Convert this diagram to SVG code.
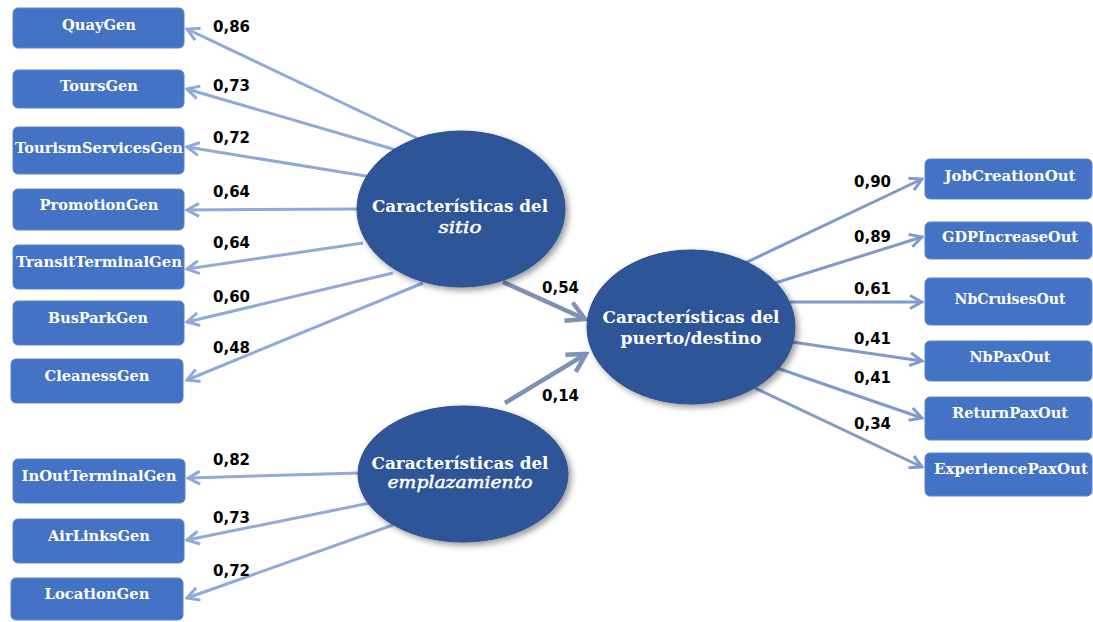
<svg xmlns="http://www.w3.org/2000/svg" width="1093" height="622" viewBox="0 0 1093 622">
<defs>
<style>
.box{fill:#4472c4;stroke:#5b84cc;stroke-width:1}
.bt{font-family:"DejaVu Serif","Liberation Serif",serif;font-weight:bold;font-size:14px;fill:#ffffff;text-anchor:middle}
.num{font-family:"DejaVu Sans","Liberation Sans",sans-serif;font-weight:bold;font-size:15px;fill:#000000}
.ell{fill:#2f5597;stroke:#2a4f8f;stroke-width:1}
.et{font-family:"DejaVu Serif","Liberation Serif",serif;font-weight:bold;font-size:17px;fill:#ffffff;text-anchor:middle}
.it{font-style:italic;font-weight:normal;stroke:#ffffff;stroke-width:0.5}
.ll{fill:none;stroke:#8eaadb;stroke-width:3}
.rl{fill:none;stroke:#7f9bcb;stroke-width:3}
.sl{fill:none;stroke:#7d91b5;stroke-width:4.5}
</style>
<marker id="al" markerUnits="userSpaceOnUse" viewBox="0 0 16 16" refX="14" refY="8" markerWidth="16" markerHeight="16" orient="auto">
<path d="M2,1.5 L14,8 L2,14.5" fill="none" stroke="#8eaadb" stroke-width="3"/>
</marker>
<marker id="ar" markerUnits="userSpaceOnUse" viewBox="0 0 16 16" refX="14" refY="8" markerWidth="16" markerHeight="16" orient="auto">
<path d="M2,1.5 L14,8 L2,14.5" fill="none" stroke="#7f9bcb" stroke-width="3"/>
</marker>
<marker id="as" markerUnits="userSpaceOnUse" viewBox="0 0 24 24" refX="21" refY="12" markerWidth="24" markerHeight="24" orient="auto">
<path d="M3,2 L21,12 L3,22" fill="none" stroke="#7d91b5" stroke-width="4.5"/>
</marker>
<filter id="sh" x="-20%" y="-20%" width="140%" height="140%">
<feGaussianBlur in="SourceAlpha" stdDeviation="3"/>
<feOffset dx="3" dy="3" result="b"/>
<feComponentTransfer><feFuncA type="linear" slope="0.4"/></feComponentTransfer>
<feMerge><feMergeNode/><feMergeNode in="SourceGraphic"/></feMerge>
</filter>
</defs>
<rect width="1093" height="622" fill="#ffffff"/>

<g id="connectors">
<line class="ll" x1="427" y1="143" x2="187" y2="29" marker-end="url(#al)"/>
<line class="ll" x1="403" y1="152" x2="187" y2="89" marker-end="url(#al)"/>
<line class="ll" x1="372" y1="177" x2="187" y2="147" marker-end="url(#al)"/>
<line class="ll" x1="358" y1="209" x2="187" y2="210" marker-end="url(#al)"/>
<line class="ll" x1="363" y1="243" x2="187" y2="269" marker-end="url(#al)"/>
<line class="ll" x1="393" y1="273" x2="187" y2="322" marker-end="url(#al)"/>
<line class="ll" x1="423" y1="283" x2="187" y2="380" marker-end="url(#al)"/>
<line class="ll" x1="359" y1="473" x2="188" y2="478" marker-end="url(#al)"/>
<line class="ll" x1="370" y1="503" x2="187" y2="540" marker-end="url(#al)"/>
<line class="ll" x1="393" y1="525" x2="187" y2="598" marker-end="url(#al)"/>
<line class="rl" x1="745" y1="263" x2="922" y2="179" marker-end="url(#ar)"/>
<line class="rl" x1="775" y1="283" x2="922" y2="237" marker-end="url(#ar)"/>
<line class="rl" x1="790" y1="302" x2="922" y2="302" marker-end="url(#ar)"/>
<line class="rl" x1="792" y1="342" x2="922" y2="361" marker-end="url(#ar)"/>
<line class="rl" x1="777" y1="368" x2="922" y2="418" marker-end="url(#ar)"/>
<line class="rl" x1="755" y1="388" x2="922" y2="467" marker-end="url(#ar)"/>
<line class="sl" x1="503" y1="282" x2="585" y2="319" marker-end="url(#as)"/>
<line class="sl" x1="505" y1="403" x2="586" y2="354" marker-end="url(#as)"/>
</g>

<g id="labels">
<text class="num" x="213" y="32">0,86</text>
<text class="num" x="213" y="91">0,73</text>
<text class="num" x="213" y="143">0,72</text>
<text class="num" x="213" y="197">0,64</text>
<text class="num" x="213" y="248">0,64</text>
<text class="num" x="213" y="302">0,60</text>
<text class="num" x="213" y="353">0,48</text>
<text class="num" x="213" y="465">0,82</text>
<text class="num" x="213" y="523">0,73</text>
<text class="num" x="213" y="576">0,72</text>
<text class="num" x="542" y="293">0,54</text>
<text class="num" x="542" y="401">0,14</text>
<text class="num" x="854" y="187">0,90</text>
<text class="num" x="854" y="242">0,89</text>
<text class="num" x="854" y="294">0,61</text>
<text class="num" x="854" y="344">0,41</text>
<text class="num" x="854" y="383">0,41</text>
<text class="num" x="854" y="429">0,34</text>
</g>

<g id="n-quay"><rect class="box" x="13" y="8" width="171" height="40" rx="5"/><text class="bt" x="99" y="30" textLength="74" lengthAdjust="spacingAndGlyphs">QuayGen</text></g>
<g id="n-tours"><rect class="box" x="13" y="70" width="171" height="38" rx="5"/><text class="bt" x="99" y="91" textLength="78" lengthAdjust="spacingAndGlyphs">ToursGen</text></g>
<g id="n-tourism"><rect class="box" x="13" y="127" width="171" height="47" rx="5"/><text class="bt" x="99" y="153" textLength="168" lengthAdjust="spacingAndGlyphs">TourismServicesGen</text></g>
<g id="n-promotion"><rect class="box" x="13" y="189" width="171" height="41" rx="5"/><text class="bt" x="99" y="210" textLength="119" lengthAdjust="spacingAndGlyphs">PromotionGen</text></g>
<g id="n-transit"><rect class="box" x="13" y="245" width="171" height="44" rx="5"/><text class="bt" x="99" y="267" textLength="166" lengthAdjust="spacingAndGlyphs">TransitTerminalGen</text></g>
<g id="n-buspark"><rect class="box" x="13" y="301" width="171" height="44" rx="5"/><text class="bt" x="98" y="323" textLength="100" lengthAdjust="spacingAndGlyphs">BusParkGen</text></g>
<g id="n-cleaness"><rect class="box" x="11" y="359" width="172" height="44" rx="5"/><text class="bt" x="97" y="381" textLength="105" lengthAdjust="spacingAndGlyphs">CleanessGen</text></g>
<g id="n-inout"><rect class="box" x="13" y="459" width="172" height="44" rx="5"/><text class="bt" x="99" y="481" textLength="155" lengthAdjust="spacingAndGlyphs">InOutTerminalGen</text></g>
<g id="n-airlinks"><rect class="box" x="13" y="519" width="171" height="44" rx="5"/><text class="bt" x="99" y="541" textLength="102" lengthAdjust="spacingAndGlyphs">AirLinksGen</text></g>
<g id="n-location"><rect class="box" x="11" y="578" width="172" height="42" rx="5"/><text class="bt" x="97" y="599" textLength="105" lengthAdjust="spacingAndGlyphs">LocationGen</text></g>

<g id="n-jobcreation"><rect class="box" x="925" y="159" width="167" height="40" rx="5"/><text class="bt" x="1010" y="181" textLength="131" lengthAdjust="spacingAndGlyphs">JobCreationOut</text></g>
<g id="n-gdp"><rect class="box" x="925" y="222" width="167" height="37" rx="5"/><text class="bt" x="1010" y="242" textLength="136" lengthAdjust="spacingAndGlyphs">GDPIncreaseOut</text></g>
<g id="n-nbcruises"><rect class="box" x="925" y="278" width="167" height="47" rx="5"/><text class="bt" x="1010" y="304" textLength="111" lengthAdjust="spacingAndGlyphs">NbCruisesOut</text></g>
<g id="n-nbpax"><rect class="box" x="925" y="341" width="167" height="40" rx="5"/><text class="bt" x="1010" y="362" textLength="81" lengthAdjust="spacingAndGlyphs">NbPaxOut</text></g>
<g id="n-returnpax"><rect class="box" x="925" y="397" width="167" height="43" rx="5"/><text class="bt" x="1010" y="418" textLength="116" lengthAdjust="spacingAndGlyphs">ReturnPaxOut</text></g>
<g id="n-experiencepax"><rect class="box" x="925" y="453" width="167" height="43" rx="5"/><text class="bt" x="1011" y="474" textLength="154" lengthAdjust="spacingAndGlyphs">ExperiencePaxOut</text></g>

<g id="n-sitio"><ellipse class="ell" cx="461" cy="209" rx="104" ry="78" filter="url(#sh)"/>
<text class="et" x="460" y="212" textLength="176" lengthAdjust="spacingAndGlyphs">Características  del</text>
<text class="et it" x="460" y="233" textLength="43" lengthAdjust="spacingAndGlyphs">sitio</text></g>

<g id="n-emplazamiento"><ellipse class="ell" cx="463" cy="474" rx="105" ry="68" filter="url(#sh)"/>
<text class="et" x="460" y="469" textLength="177" lengthAdjust="spacingAndGlyphs">Características  del</text>
<text class="et it" x="460" y="488" textLength="145" lengthAdjust="spacingAndGlyphs">emplazamiento</text></g>

<g id="n-puerto"><ellipse class="ell" cx="691" cy="327" rx="104" ry="77" filter="url(#sh)"/>
<text class="et" x="691" y="323" textLength="177" lengthAdjust="spacingAndGlyphs">Características  del</text>
<text class="et" x="691" y="344" textLength="141" lengthAdjust="spacingAndGlyphs">puerto/destino</text></g>
</svg>
